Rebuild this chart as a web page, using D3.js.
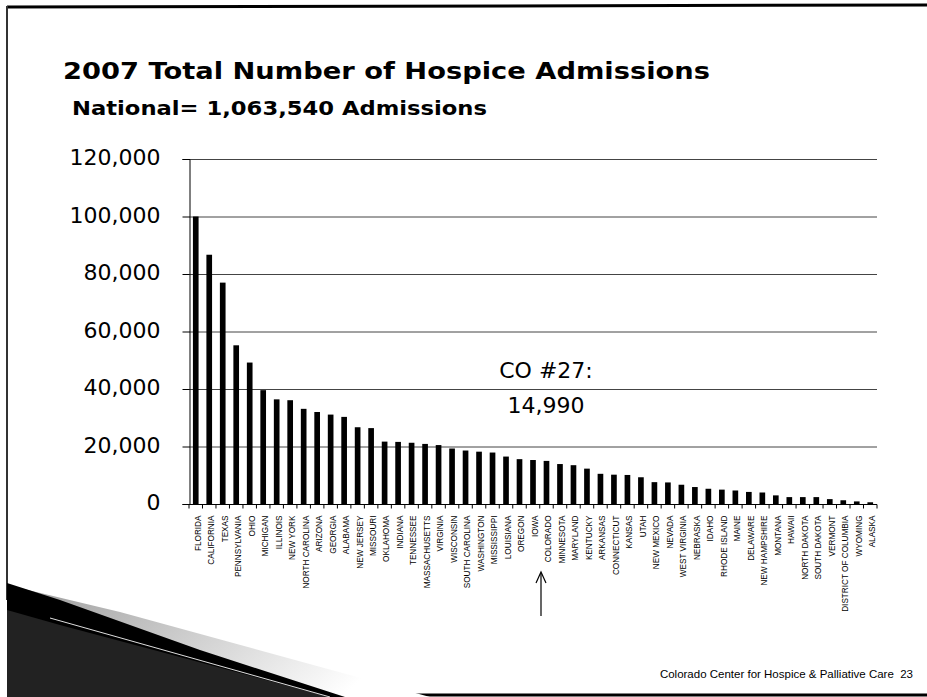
<!DOCTYPE html>
<html>
<head>
<meta charset="utf-8">
<script src="https://cdn.jsdelivr.net/npm/d3@7"></script>
<style>
  body { margin: 0; background: #fff; }
  svg { display: block; }
</style>
</head>
<body>
<div class="canva"></div>
<script>
// states, ranked by 2007 hospice admissions
const states = ["FLORIDA","CALIFORNIA","TEXAS","PENNSYLVANIA","OHIO","MICHIGAN","ILLINOIS","NEW YORK",
  "NORTH CAROLINA","ARIZONA","GEORGIA","ALABAMA","NEW JERSEY","MISSOURI","OKLAHOMA","INDIANA",
  "TENNESSEE","MASSACHUSETTS","VIRGINIA","WISCONSIN","SOUTH CAROLINA","WASHINGTON","MISSISSIPPI",
  "LOUISIANA","OREGON","IOWA","COLORADO","MINNESOTA","MARYLAND","KENTUCKY","ARKANSAS","CONNECTICUT",
  "KANSAS","UTAH","NEW MEXICO","NEVADA","WEST VIRGINIA","NEBRASKA","IDAHO","RHODE ISLAND","MAINE",
  "DELAWARE","NEW HAMPSHIRE","MONTANA","HAWAII","NORTH DAKOTA","SOUTH DAKOTA","VERMONT",
  "DISTRICT OF COLUMBIA","WYOMING","ALASKA"];
const admissions = [100000,86700,77000,55200,49200,39600,36400,36100,33100,32000,31100,30300,26700,
  26400,21700,21600,21300,20900,20500,19300,18600,18200,17900,16500,15600,15300,14990,13900,13500,
  12300,10500,10200,10100,9300,7600,7500,6700,5900,5300,5000,4700,4200,4000,3000,2400,2400,2400,
  1700,1300,900,600];
const yTicks = [0,20000,40000,60000,80000,100000,120000];

const W = 927, H = 697;
const pLeft = 189, pRight = 877, pTop = 159, pBottom = 504;

const svg = d3.select(".canva").append("svg")
  .attr("width", W).attr("height", H);

svg.append("rect").attr("width", W).attr("height", H).attr("fill", "#fff");

// slide frame
svg.append("line").attr("x1", 7).attr("x2", W).attr("y1", 7).attr("y2", 5)
  .attr("stroke", "#000").attr("stroke-width", 3);
svg.append("line").attr("x1", 7).attr("x2", 7).attr("y1", 6).attr("y2", 600)
  .attr("stroke", "#333").attr("stroke-width", 2);
svg.append("line").attr("x1", 340).attr("x2", W).attr("y1", 695).attr("y2", 695)
  .attr("stroke", "#000").attr("stroke-width", 3);

// bottom-left swoosh
const grad = svg.append("defs").append("linearGradient").attr("id", "sw")
  .attr("x1", 0).attr("y1", 0).attr("x2", 1).attr("y2", 0.3);
grad.append("stop").attr("offset", "0%").attr("stop-color", "#999");
grad.append("stop").attr("offset", "100%").attr("stop-color", "#fff");
svg.append("path").attr("d", "M7,585 L120,612 L430,697 L7,697 Z").attr("fill", "url(#sw)");
svg.append("path").attr("d", "M7,583 L60,600 L200,650 L345,697 L7,697 Z").attr("fill", "#000");
svg.append("path").attr("d", "M7,610 L60,625 L330,697 L7,697 Z").attr("fill", "#222");
svg.append("line").attr("x1", 50).attr("y1", 618).attr("x2", 330).attr("y2", 697)
  .attr("stroke", "#ddd").attr("stroke-width", 1);

// titles
svg.append("text").text("2007 Total Number of Hospice Admissions")
  .attr("x", 63).attr("y", 79)
  .attr("textLength", 647).attr("lengthAdjust", "spacingAndGlyphs")
  .attr("font-family", "DejaVu Sans").attr("font-weight", "bold").attr("font-size", 23);
svg.append("text").text("National= 1,063,540 Admissions")
  .attr("x", 72).attr("y", 115)
  .attr("textLength", 415).attr("lengthAdjust", "spacingAndGlyphs")
  .attr("font-family", "DejaVu Sans").attr("font-weight", "bold").attr("font-size", 19);

// scales
const x = d3.scaleBand().domain(states).range([pLeft, pRight]).paddingInner(0.58).paddingOuter(0.29);
const y = d3.scaleLinear().domain([0, 120000]).range([pBottom, pTop]);

// gridlines
svg.append("g").selectAll("line").data(yTicks.filter(d => d > 0)).enter().append("line")
  .attr("x1", pLeft).attr("x2", pRight)
  .attr("y1", d => y(d) + 0.5).attr("y2", d => y(d) + 0.5)
  .attr("stroke", "#444").attr("stroke-width", 1);

// y axis
const yAxis = svg.append("g").attr("transform", `translate(${pLeft + 0.5},0)`)
  .call(d3.axisLeft(y).tickValues(yTicks).tickSize(7).tickPadding(22)
    .tickFormat(d3.format(",")));
yAxis.select(".domain").attr("stroke", "#000");
yAxis.selectAll("text").attr("font-family", "DejaVu Sans").attr("font-size", 22)
  .attr("fill", "#000").attr("dy", "0.25em");

// x axis with ticks between categories
const xAxis = svg.append("g").attr("transform", `translate(0,${pBottom + 0.5})`);
xAxis.append("line").attr("x1", pLeft).attr("x2", pRight).attr("stroke", "#000");
const bandW = (pRight - pLeft) / states.length;
xAxis.selectAll("line.tk").data(d3.range(states.length + 1)).enter().append("line")
  .attr("class", "tk")
  .attr("x1", i => pLeft + i * bandW)
  .attr("x2", i => pLeft + i * bandW)
  .attr("y1", 0).attr("y2", 4).attr("stroke", "#000");
xAxis.selectAll("text").data(states).enter().append("text")
  .text(d => d)
  .attr("transform", d => `translate(${x(d) + x.bandwidth() / 2 + 2},11) rotate(-90)`)
  .attr("dy", "0.35em")
  .attr("text-anchor", "end")
  .attr("font-family", "Liberation Sans Narrow, Liberation Sans, Arial")
  .attr("font-size", 8.2)
  .attr("fill", "#000");

// bars
svg.append("g").selectAll("rect").data(admissions).enter().append("rect")
  .attr("x", (d, i) => x(states[i]))
  .attr("y", d => y(d))
  .attr("width", x.bandwidth())
  .attr("height", d => pBottom - y(d))
  .attr("fill", "#000");

// Colorado callout
const co = states.indexOf("COLORADO");
svg.append("text").text("CO #" + (co + 1) + ":")
  .attr("x", 546).attr("y", 378).attr("text-anchor", "middle")
  .attr("font-family", "DejaVu Sans").attr("font-size", 22);
svg.append("text").text(d3.format(",")(admissions[co]))
  .attr("x", 546).attr("y", 413).attr("text-anchor", "middle")
  .attr("font-family", "DejaVu Sans").attr("font-size", 22);

// arrow pointing at Colorado label
svg.append("line").attr("x1", 541).attr("x2", 541).attr("y1", 573).attr("y2", 616)
  .attr("stroke", "#000").attr("stroke-width", 1.2);
svg.append("path").attr("d", "M536,583 L541,572 L546,583").attr("fill", "none")
  .attr("stroke", "#000").attr("stroke-width", 1.2);

// footer
svg.append("text").text("Colorado Center for Hospice & Palliative Care  23")
  .attr("x", 913).attr("y", 678).attr("text-anchor", "end")
  .attr("font-family", "Liberation Sans, Arial").attr("font-size", 11.5)
  .style("white-space", "pre");
</script>
</body>
</html>
